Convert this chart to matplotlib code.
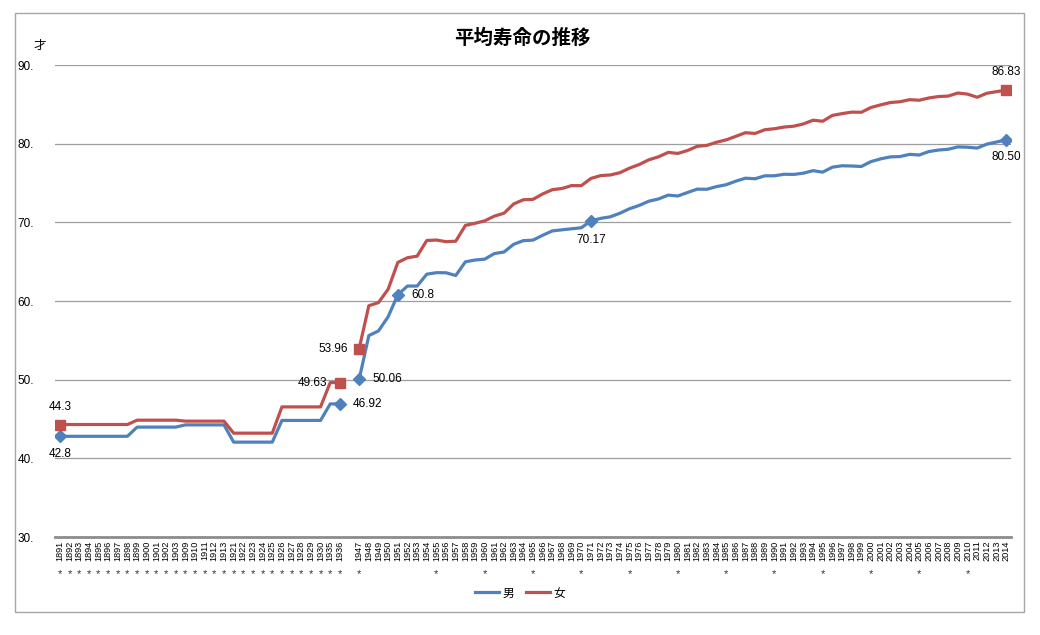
import numpy as np
import matplotlib
matplotlib.use("Agg")
import matplotlib.pyplot as plt
from matplotlib.patches import Rectangle
from matplotlib.lines import Line2D

# ---------------- data ----------------
years_early = [1891, 1892, 1893, 1894, 1895, 1896, 1897, 1898,
               1899, 1900, 1901, 1902, 1903,
               1909, 1910, 1911, 1912, 1913,
               1921, 1922, 1923, 1924, 1925,
               1926, 1927, 1928, 1929, 1930,
               1935, 1936]
male_early = [42.8] * 8 + [43.97] * 5 + [44.25] * 5 + [42.06] * 5 + [44.82] * 5 + [46.92] * 2
female_early = [44.3] * 8 + [44.85] * 5 + [44.73] * 5 + [43.20] * 5 + [46.54] * 5 + [49.63] * 2

years_post = list(range(1947, 2015))
male_post = [50.06, 55.6, 56.2, 58.0, 60.8, 61.9, 61.9, 63.41, 63.60, 63.59,
             63.24, 64.98, 65.21, 65.32, 66.03, 66.23, 67.21, 67.67, 67.74, 68.35,
             68.91, 69.05, 69.18, 69.31, 70.17, 70.50, 70.70, 71.16, 71.73, 72.15,
             72.69, 72.97, 73.46, 73.35, 73.79, 74.22, 74.20, 74.54, 74.78, 75.23,
             75.61, 75.54, 75.91, 75.92, 76.11, 76.09, 76.25, 76.57, 76.38, 77.01,
             77.19, 77.16, 77.10, 77.72, 78.07, 78.32, 78.36, 78.64, 78.56, 79.00,
             79.19, 79.29, 79.59, 79.55, 79.44, 79.94, 80.21, 80.50]
female_post = [53.96, 59.4, 59.8, 61.5, 64.9, 65.5, 65.7, 67.69, 67.75, 67.54,
               67.60, 69.61, 69.88, 70.19, 70.79, 71.16, 72.34, 72.87, 72.92, 73.61,
               74.15, 74.30, 74.67, 74.66, 75.58, 75.94, 76.02, 76.31, 76.89, 77.35,
               77.95, 78.33, 78.89, 78.76, 79.13, 79.66, 79.78, 80.18, 80.48, 80.93,
               81.39, 81.30, 81.77, 81.90, 82.11, 82.22, 82.51, 82.98, 82.85, 83.59,
               83.82, 84.01, 83.99, 84.60, 84.93, 85.23, 85.33, 85.59, 85.52, 85.81,
               85.99, 86.05, 86.44, 86.30, 85.90, 86.41, 86.61, 86.83]

# census / complete-life-table years marked with "*"
starred_years = years_early + [1947, 1955, 1960, 1965, 1970, 1975, 1980,
                               1985, 1990, 1995, 2000, 2005, 2010]

male_labeled = [1891, 1936, 1947, 1951, 1971, 2014]
female_labeled = [1891, 1936, 1947, 2014]

title = "平均寿命の推移"
unit = "才"
series_names = ["男", "女"]

# ------------- build category axis (one blank category 1937-46) -------------
categories = [str(y) for y in years_early] + [""] + [str(y) for y in years_post]
male = np.array(male_early + [np.nan] + male_post, dtype=float)
female = np.array(female_early + [np.nan] + female_post, dtype=float)
x = np.arange(len(categories))
idx = {c: i for i, c in enumerate(categories)}

BLUE = "#4F81BD"
RED = "#C0504D"
NUMFONT = ["Liberation Sans", "DejaVu Sans"]
CJK = ["Noto Sans CJK JP", "DejaVu Sans"]

fig = plt.figure(figsize=(10.4, 6.35), dpi=100)
ax = fig.add_axes([55 / 1040, 1 - 537 / 635, (1011 - 55) / 1040, (537 - 65) / 635])

# chart border
fig.patches.append(Rectangle((15 / 1040, 1 - 612 / 635), (1024 - 15) / 1040, (612 - 13) / 635,
                             transform=fig.transFigure, fill=False, edgecolor="#A6A6A6",
                             linewidth=1.0, zorder=0))

m_marks = [idx[str(y)] for y in male_labeled]
f_marks = [idx[str(y)] for y in female_labeled]
ax.plot(x, male, color=BLUE, lw=2.3, marker="D", ms=6, markevery=m_marks,
        zorder=3, solid_joinstyle="round")
ax.plot(x, female, color=RED, lw=2.3, marker="s", ms=6.5, markevery=f_marks,
        zorder=3, solid_joinstyle="round")

ax.set_xlim(-0.5, len(categories) - 0.5)
ax.set_ylim(30, 90)
ax.set_yticks(np.arange(30, 91, 10))
ax.set_yticklabels([f"{v}." for v in range(30, 91, 10)], fontfamily=NUMFONT, fontsize=8.5)
ax.tick_params(axis="y", length=0, pad=15)
ax.grid(axis="y", color="#9E9E9E", lw=0.9)
ax.set_axisbelow(True)
for s in ["top", "right", "left"]:
    ax.spines[s].set_visible(False)
ax.spines["bottom"].set_color("#8C8C8C")
ax.spines["bottom"].set_linewidth(2.0)

ax.set_xticks(x)
ax.set_xticklabels(categories, rotation=90, fontfamily=NUMFONT, fontsize=6.6, va="top")
ax.tick_params(axis="x", length=0, pad=2.5)

# asterisk markers under starred categories
xt = ax.get_xaxis_transform()
for y in starred_years:
    ax.text(idx[str(y)], -37 / 472, "*", transform=xt, ha="center", va="center",
            fontsize=8, fontfamily=NUMFONT, color="#333333")

# data labels
def fmt(v):
    s = f"{v:.2f}"
    if v in (42.8, 44.3, 60.8):
        s = f"{v:.1f}"
    return s

male_offsets = {1891: (0, -17, "center"), 1936: (12, 0, "left"), 1947: (13, 0, "left"),
                1951: (13, 0, "left"), 1971: (0, -18, "center"), 2014: (0, -17, "center")}
female_offsets = {1891: (0, 17, "center"), 1936: (-12, 0, "right"), 1947: (-11, 0, "right"),
                  2014: (0, 17, "center")}
for y, (dx, dy, ha) in male_offsets.items():
    i = idx[str(y)]
    ax.annotate(fmt(male[i]), (i, male[i]), xytext=(dx * 0.75, dy * 0.75),
                textcoords="offset points", ha=ha, va="center", fontsize=8.5,
                fontfamily=NUMFONT, zorder=5)
for y, (dx, dy, ha) in female_offsets.items():
    i = idx[str(y)]
    ax.annotate(fmt(female[i]), (i, female[i]), xytext=(dx * 0.75, dy * 0.75),
                textcoords="offset points", ha=ha, va="center", fontsize=8.5,
                fontfamily=NUMFONT, zorder=5)

fig.text(522 / 1040, 1 - 38 / 635, title, ha="center", va="center", fontsize=14,
         fontweight="bold", fontfamily=CJK)
fig.text(40 / 1040, 1 - 45 / 635, unit, ha="center", va="center", fontsize=9, fontfamily=CJK)

handles = [Line2D([], [], color=BLUE, lw=2.3), Line2D([], [], color=RED, lw=2.3)]
fig.legend(handles, series_names, loc="center", bbox_to_anchor=(520 / 1040, 1 - 593 / 635),
           ncol=2, frameon=False, prop={"family": CJK, "size": 8.5}, handlelength=2.0,
           handletextpad=0.3, columnspacing=1.0)

fig.savefig("out.png", dpi=100)
